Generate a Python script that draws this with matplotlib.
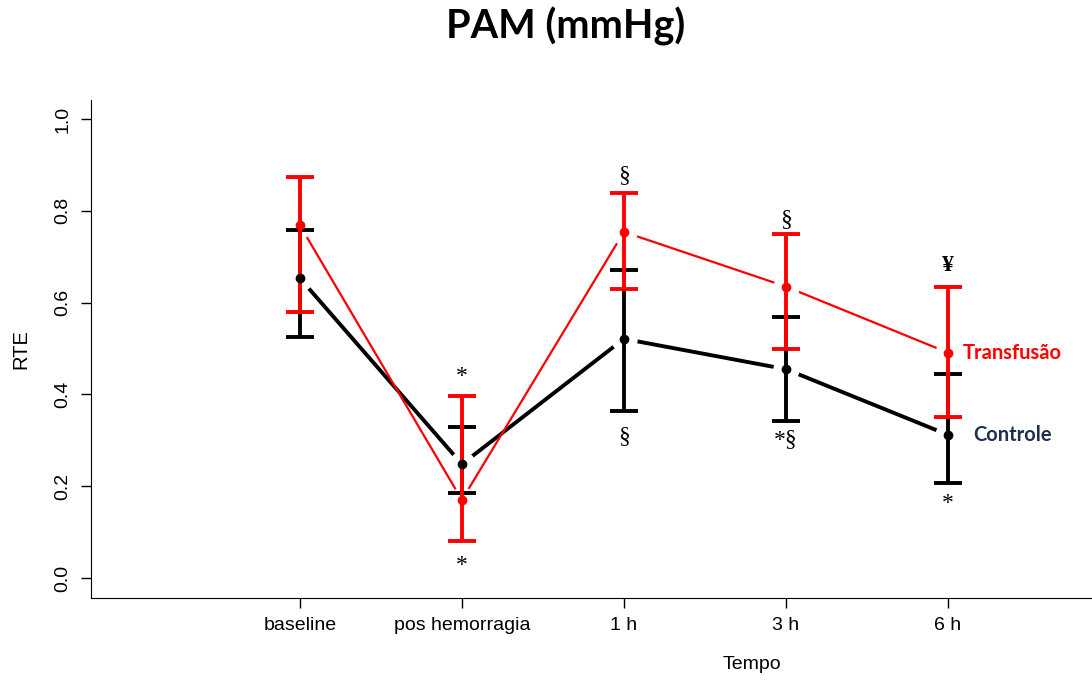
import numpy as np
import matplotlib
matplotlib.use("Agg")
import matplotlib.pyplot as plt

# data
tempo = ["baseline", "pos hemorragia", "1 h", "3 h", "6 h"]
controle = [0.653, 0.248, 0.521, 0.455, 0.312]
controle_sup = [0.758, 0.330, 0.672, 0.569, 0.444]
controle_inf = [0.524, 0.185, 0.364, 0.343, 0.208]
transf = [0.768, 0.170, 0.754, 0.635, 0.491]
transf_sup = [0.874, 0.397, 0.838, 0.749, 0.633]
transf_inf = [0.580, 0.081, 0.629, 0.499, 0.350]

# significance marks: (x index, y, text)
marcas = [(1, 0.440, "*"), (1, 0.027, "*"),
          (2, 0.876, "§"), (2, 0.308, "§"),
          (3, 0.780, "§"), (3, 0.302, "*§"),
          (4, 0.680, "¥"), (4, 0.163, "*")]

RED = "#FF0000"
NAVY = "#1F2F4F"

fig = plt.figure(figsize=(10.92, 6.81), dpi=100)
ax = fig.add_axes([91/1092, 83/681, 1 - 91/1092, 498/681])

x = np.arange(1, len(tempo) + 1)

# lines (type "b" look: gaps around points made with white markers)
ax.plot(x, controle, color="black", lw=2.8, zorder=2)
ax.plot(x, transf, color=RED, lw=1.6, zorder=2)
ax.plot(x, controle, ls="none", marker="o", ms=19, mfc="white", mec="none", zorder=3)
ax.plot(x, transf, ls="none", marker="o", ms=19, mfc="white", mec="none", zorder=3)

c = np.array(controle)
t = np.array(transf)
ax.errorbar(x, c, yerr=[c - np.array(controle_inf), np.array(controle_sup) - c],
            fmt="none", ecolor="black", elinewidth=2.8, capsize=10, capthick=2.8, zorder=4)
ax.errorbar(x, t, yerr=[t - np.array(transf_inf), np.array(transf_sup) - t],
            fmt="none", ecolor=RED, elinewidth=2.8, capsize=10, capthick=2.8, zorder=5)
ax.plot(x, controle, ls="none", marker="o", ms=6, color="black", zorder=6)
ax.plot(x, transf, ls="none", marker="o", ms=6, color=RED, zorder=6)

for i, yv, s in marcas:
    ax.text(x[i], yv, s, ha="center", va="center", fontsize=17,
            family="Liberation Serif", fontweight="bold" if s == "¥" else "normal")

ax.text(x[-1] + 0.09, transf[-1], "Transfusão", color=RED, fontsize=14.5,
        fontweight="bold", family="Lato", va="center", ha="left")
ax.text(x[-1] + 0.155, controle[-1], "Controle", color=NAVY, fontsize=14.5,
        fontweight="bold", family="Lato", va="center", ha="left")

ax.set_xlim(-0.29, 5.89)
ax.set_ylim(-0.0436, 1.0414)
ax.set_xticks(x)
ax.set_xticklabels(tempo, family="Liberation Sans", fontsize=14)
ax.set_yticks([0.0, 0.2, 0.4, 0.6, 0.8, 1.0])
ax.set_yticklabels(["0.0", "0.2", "0.4", "0.6", "0.8", "1.0"], rotation=90,
                   va="center", family="Liberation Sans", fontsize=14)
ax.tick_params(direction="out", length=7, width=1, pad=7)
ax.spines["top"].set_visible(False)
ax.spines["right"].set_visible(False)
ax.set_xlabel("Tempo", family="Liberation Sans", fontsize=14)
ax.set_ylabel("RTE", family="Liberation Sans", fontsize=14.5)
ax.xaxis.set_label_coords((752 - 91) / (1092 - 91), -(656 - 598) / 498)
ax.yaxis.set_label_coords(-(91 - 30) / (1092 - 91), (598 - 349) / 498)

fig.text(566/1092, 1 - 39/681, "PAM (mmHg)", ha="center", va="baseline",
         fontsize=28.5, fontweight="bold", family="Lato")

fig.savefig("out.png", dpi=100)
